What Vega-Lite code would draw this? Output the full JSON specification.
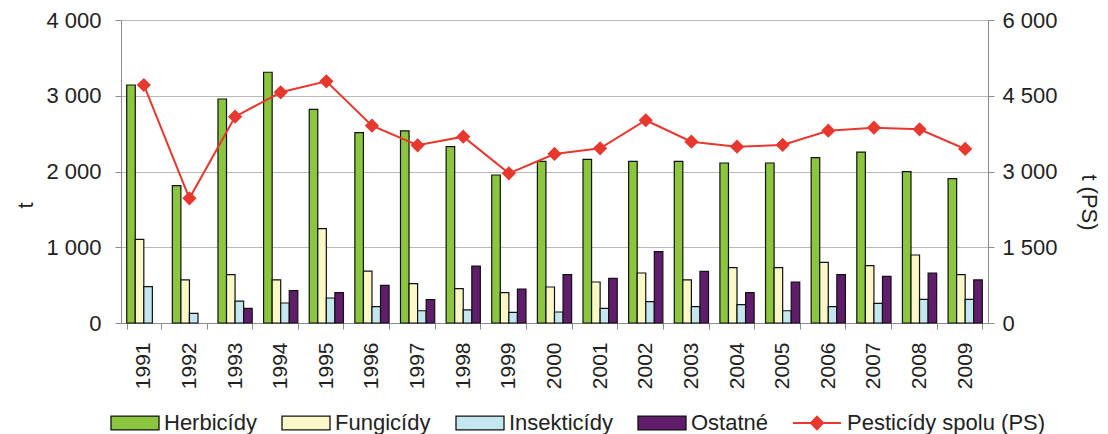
{
  "$schema": "https://vega.github.io/schema/vega-lite/v6.json",
  "width": 867,
  "height": 303,
  "autosize": {"type": "none"},
  "padding": {"left": 121, "top": 20, "right": 120, "bottom": 111},
  "background": "white",
  "config": {
    "font": "Liberation Sans",
    "view": {"stroke": null},
    "axis": {
      "labelFont": "Liberation Sans",
      "titleFont": "Liberation Sans",
      "labelColor": "#222222",
      "titleColor": "#222222",
      "domainColor": "#8c8c8c",
      "tickColor": "#8c8c8c",
      "gridColor": "#b8b8b8",
      "titleFontWeight": "normal"
    },
    "legend": {"labelFont": "Liberation Sans"}
  },
  "datasets": {
    "bars": [
      {"rok": "1991", "typ": "Herbicídy", "t": 3142}, {"rok": "1991", "typ": "Fungicídy", "t": 1105}, {"rok": "1991", "typ": "Insekticídy", "t": 479},
      {"rok": "1992", "typ": "Herbicídy", "t": 1813}, {"rok": "1992", "typ": "Fungicídy", "t": 568}, {"rok": "1992", "typ": "Insekticídy", "t": 128},
      {"rok": "1993", "typ": "Herbicídy", "t": 2957}, {"rok": "1993", "typ": "Fungicídy", "t": 638}, {"rok": "1993", "typ": "Insekticídy", "t": 290}, {"rok": "1993", "typ": "Ostatné", "t": 194},
      {"rok": "1994", "typ": "Herbicídy", "t": 3310}, {"rok": "1994", "typ": "Fungicídy", "t": 568}, {"rok": "1994", "typ": "Insekticídy", "t": 264}, {"rok": "1994", "typ": "Ostatné", "t": 427},
      {"rok": "1995", "typ": "Herbicídy", "t": 2821}, {"rok": "1995", "typ": "Fungicídy", "t": 1245}, {"rok": "1995", "typ": "Insekticídy", "t": 330}, {"rok": "1995", "typ": "Ostatné", "t": 400},
      {"rok": "1996", "typ": "Herbicídy", "t": 2513}, {"rok": "1996", "typ": "Fungicídy", "t": 686}, {"rok": "1996", "typ": "Insekticídy", "t": 215}, {"rok": "1996", "typ": "Ostatné", "t": 497},
      {"rok": "1997", "typ": "Herbicídy", "t": 2535}, {"rok": "1997", "typ": "Fungicídy", "t": 519}, {"rok": "1997", "typ": "Insekticídy", "t": 162}, {"rok": "1997", "typ": "Ostatné", "t": 308},
      {"rok": "1998", "typ": "Herbicídy", "t": 2328}, {"rok": "1998", "typ": "Fungicídy", "t": 453}, {"rok": "1998", "typ": "Insekticídy", "t": 172}, {"rok": "1998", "typ": "Ostatné", "t": 752},
      {"rok": "1999", "typ": "Herbicídy", "t": 1954}, {"rok": "1999", "typ": "Fungicídy", "t": 400}, {"rok": "1999", "typ": "Insekticídy", "t": 141}, {"rok": "1999", "typ": "Ostatné", "t": 449},
      {"rok": "2000", "typ": "Herbicídy", "t": 2134}, {"rok": "2000", "typ": "Fungicídy", "t": 475}, {"rok": "2000", "typ": "Insekticídy", "t": 145}, {"rok": "2000", "typ": "Ostatné", "t": 638},
      {"rok": "2001", "typ": "Herbicídy", "t": 2161}, {"rok": "2001", "typ": "Fungicídy", "t": 541}, {"rok": "2001", "typ": "Insekticídy", "t": 194}, {"rok": "2001", "typ": "Ostatné", "t": 590},
      {"rok": "2002", "typ": "Herbicídy", "t": 2134}, {"rok": "2002", "typ": "Fungicídy", "t": 660}, {"rok": "2002", "typ": "Insekticídy", "t": 282}, {"rok": "2002", "typ": "Ostatné", "t": 941},
      {"rok": "2003", "typ": "Herbicídy", "t": 2134}, {"rok": "2003", "typ": "Fungicídy", "t": 568}, {"rok": "2003", "typ": "Insekticídy", "t": 215}, {"rok": "2003", "typ": "Ostatné", "t": 682},
      {"rok": "2004", "typ": "Herbicídy", "t": 2112}, {"rok": "2004", "typ": "Fungicídy", "t": 730}, {"rok": "2004", "typ": "Insekticídy", "t": 242}, {"rok": "2004", "typ": "Ostatné", "t": 400},
      {"rok": "2005", "typ": "Herbicídy", "t": 2112}, {"rok": "2005", "typ": "Fungicídy", "t": 730}, {"rok": "2005", "typ": "Insekticídy", "t": 162}, {"rok": "2005", "typ": "Ostatné", "t": 541},
      {"rok": "2006", "typ": "Herbicídy", "t": 2183}, {"rok": "2006", "typ": "Fungicídy", "t": 801}, {"rok": "2006", "typ": "Insekticídy", "t": 215}, {"rok": "2006", "typ": "Ostatné", "t": 638},
      {"rok": "2007", "typ": "Herbicídy", "t": 2257}, {"rok": "2007", "typ": "Fungicídy", "t": 757}, {"rok": "2007", "typ": "Insekticídy", "t": 260}, {"rok": "2007", "typ": "Ostatné", "t": 616},
      {"rok": "2008", "typ": "Herbicídy", "t": 1998}, {"rok": "2008", "typ": "Fungicídy", "t": 898}, {"rok": "2008", "typ": "Insekticídy", "t": 313}, {"rok": "2008", "typ": "Ostatné", "t": 660},
      {"rok": "2009", "typ": "Herbicídy", "t": 1905}, {"rok": "2009", "typ": "Fungicídy", "t": 638}, {"rok": "2009", "typ": "Insekticídy", "t": 313}, {"rok": "2009", "typ": "Ostatné", "t": 568}
    ],
    "total": [
      {"rok": "1991", "ps": 4713}, {"rok": "1992", "ps": 2469}, {"rok": "1993", "ps": 4086}, {"rok": "1994", "ps": 4568},
      {"rok": "1995", "ps": 4786}, {"rok": "1996", "ps": 3907}, {"rok": "1997", "ps": 3519}, {"rok": "1998", "ps": 3690},
      {"rok": "1999", "ps": 2964}, {"rok": "2000", "ps": 3347}, {"rok": "2001", "ps": 3459}, {"rok": "2002", "ps": 4015},
      {"rok": "2003", "ps": 3591}, {"rok": "2004", "ps": 3492}, {"rok": "2005", "ps": 3525}, {"rok": "2006", "ps": 3808},
      {"rok": "2007", "ps": 3867}, {"rok": "2008", "ps": 3835}, {"rok": "2009", "ps": 3446}
    ]
  },
  "layer": [
    {
      "data": {"name": "bars"},
      "mark": {"type": "bar", "stroke": "#111111", "strokeWidth": 1.2},
      "encoding": {
        "x": {
          "field": "rok", "type": "nominal", "sort": null,
          "scale": {"paddingInner": 0.25, "paddingOuter": 0.125},
          "axis": {
            "title": null, "labelAngle": -90, "labelAlign": "right", "labelBaseline": "middle",
            "labelFontSize": 21, "labelPadding": 13, "tickSize": 6, "tickBand": "extent", "grid": false
          }
        },
        "xOffset": {"field": "typ", "type": "nominal", "scale": {"domain": ["Herbicídy", "Fungicídy", "Insekticídy", "Ostatné"], "paddingInner": 0, "paddingOuter": 0}},
        "y": {
          "field": "t", "type": "quantitative",
          "scale": {"domain": [0, 4000], "nice": false},
          "axis": {
            "title": "t", "titleFontSize": 22, "titleAngle": -90, "titleAlign": "center", "titleBaseline": "middle",
            "titleX": -96, "titleY": 185,
            "values": [0, 1000, 2000, 3000, 4000], "labelExpr": "replace(format(datum.value, ','), ',', ' ')",
            "labelFontSize": 22, "labelPadding": 14, "tickSize": 6, "grid": true
          }
        },
        "color": {
          "field": "typ", "type": "nominal",
          "scale": {
            "domain": ["Herbicídy", "Fungicídy", "Insekticídy", "Ostatné"],
            "range": ["#8cc63f", "#fbf8c8", "#c4e6ef", "#5f1d6b"]
          },
          "legend": {
            "title": null, "orient": "none", "direction": "horizontal", "columns": 4,
            "legendX": -11, "legendY": 378, "labelFontSize": 22, "labelColor": "#222222", "labelLimit": 300,
            "symbolType": "M-1,-0.29H1V0.29H-1Z", "symbolSize": 2304,
            "symbolStrokeColor": "#111111", "symbolStrokeWidth": 1.3, "symbolOpacity": 1,
            "labelOffset": 4, "columnPadding": 22, "gridAlign": "each"
          }
        }
      }
    },
    {
      "data": {"name": "total"},
      "mark": {"type": "line", "strokeWidth": 2, "color": "#e8382e", "point": {"shape": "diamond", "size": 130, "filled": true, "color": "#e8382e"}},
      "encoding": {
        "x": {"field": "rok", "type": "nominal", "sort": null},
        "y": {
          "field": "ps", "type": "quantitative",
          "scale": {"domain": [0, 6000], "nice": false},
          "axis": {
            "orient": "right", "title": "t (PS)", "titleFontSize": 22, "titleAngle": 90, "titleAlign": "center", "titleBaseline": "middle",
            "titleX": 100, "titleY": 182,
            "values": [0, 1500, 3000, 4500, 6000], "labelExpr": "replace(format(datum.value, ','), ',', ' ')",
            "labelFontSize": 22, "labelPadding": 8, "tickSize": 6, "grid": false
          }
        },
        "stroke": {
          "datum": "Pesticídy spolu (PS)",
          "scale": {"range": ["#e8382e"]},
          "legend": {
            "title": null, "orient": "none", "legendX": 671, "legendY": 378,
            "labelFontSize": 22, "labelColor": "#222222", "labelLimit": 400, "labelOffset": 5,
            "symbolType": "M-1,0H-0.25L0,-0.26L0.25,0H1H0.25L0,0.26L-0.25,0Z", "symbolSize": 2304,
            "symbolFillColor": "#e8382e", "symbolStrokeColor": "#e8382e", "symbolStrokeWidth": 2, "symbolOpacity": 1
          }
        }
      }
    }
  ],
  "resolve": {"scale": {"y": "independent"}}
}
